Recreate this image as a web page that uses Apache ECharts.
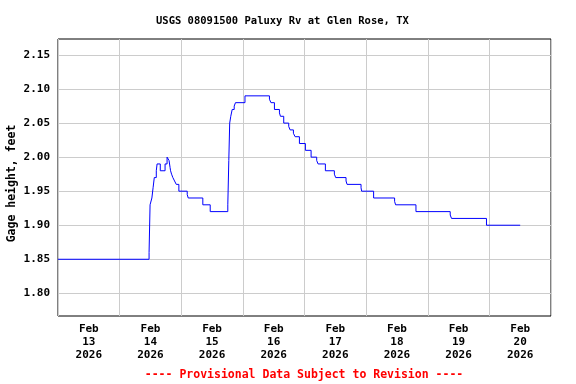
<!DOCTYPE html>
<html>
<head>
<meta charset="utf-8">
<script src="https://cdn.jsdelivr.net/npm/echarts@6/dist/echarts.min.js"></script>
<style>
html,body{margin:0;padding:0;background:#fff;}
#chart{width:576px;height:384px;}
</style>
</head>
<body>
<div id="chart"></div>
<script>
// Hours since Feb 13 2026 00:00, and gage height (ft) from that time on
const hours = [0, 35.47, 35.86, 36.56, 37.03, 37.50, 38.28, 38.59, 39.83, 41.70, 42.48,
  43.25, 43.64, 43.84, 44.23, 44.73, 45.39, 46.06, 47.07, 50.33, 50.72, 56.40, 59.28,
  66.13, 66.52, 66.87, 67.29, 67.84, 68.62, 69.12, 72.82, 82.35, 82.93, 84.29, 86.24,
  86.63, 87.91, 89.86, 90.40, 91.68, 92.34, 94.02, 96.35, 98.57, 100.75, 101.29, 104.13,
  107.63, 108.14, 112.18, 112.57, 118.02, 118.25, 122.92, 131.09, 131.48, 139.41,
  152.75, 153.26, 166.87, 180];
const heights = [1.85, 1.86, 1.93, 1.94, 1.955, 1.97, 1.98, 1.99, 1.98, 1.99, 2.00,
  1.995, 1.985, 1.98, 1.975, 1.97, 1.965, 1.96, 1.95, 1.945, 1.94, 1.93, 1.92,
  1.93, 1.995, 2.05, 2.06, 2.07, 2.075, 2.08, 2.09, 2.085, 2.08, 2.07, 2.065,
  2.06, 2.05, 2.045, 2.04, 2.035, 2.03, 2.02, 2.01, 2.00, 1.995, 1.99, 1.98,
  1.975, 1.97, 1.965, 1.96, 1.955, 1.95, 1.94, 1.935, 1.93, 1.92,
  1.915, 1.91, 1.90, 1.90];
const dayLabels = ['Feb\n13\n2026', 'Feb\n14\n2026', 'Feb\n15\n2026', 'Feb\n16\n2026',
  'Feb\n17\n2026', 'Feb\n18\n2026', 'Feb\n19\n2026', 'Feb\n20\n2026'];
const labelHours = [12, 36, 60, 84, 108, 132, 156, 180];
const yTicks = [1.80, 1.85, 1.90, 1.95, 2.00, 2.05, 2.10, 2.15];

const FONT = '"DejaVu Sans Mono", "Liberation Mono", monospace';
const chart = echarts.init(document.getElementById('chart'), null, {renderer: 'canvas'});
chart.setOption({
  animation: false,
  backgroundColor: '#ffffff',
  title: {
    text: 'USGS 08091500 Paluxy Rv at Glen Rose, TX',
    left: 151, top: 11,
    textStyle: {fontFamily: FONT, fontSize: 10.5, fontWeight: 'bold', color: '#000'}
  },
  grid: {left: 58, top: 39, right: 25, bottom: 68, show: true, borderColor: '#000', borderWidth: 1, backgroundColor: 'transparent'},
  xAxis: {
    type: 'value', min: 0, max: 192, interval: 24,
    axisLine: {show: false}, axisTick: {show: false},
    splitLine: {show: true, lineStyle: {color: '#cccccc', width: 1}},
    axisLabel: {
      customValues: labelHours,
      formatter: v => dayLabels[Math.round((v - 12) / 24)],
      fontFamily: FONT, fontSize: 11, fontWeight: 'bold', color: '#000',
      lineHeight: 12.8, margin: 7, align: 'center'
    }
  },
  yAxis: {
    type: 'value', min: 1.7667, max: 2.1735,
    axisLine: {show: false},
    axisTick: {show: false, customValues: yTicks},
    splitLine: {show: true, lineStyle: {color: '#cccccc', width: 1}},
    axisLabel: {
      customValues: yTicks,
      formatter: v => v.toFixed(2),
      fontFamily: FONT, fontSize: 11, fontWeight: 'bold', color: '#000', margin: 8
    }
  },
  graphic: [
    {type: 'text', x: 12, y: 183.5, rotation: Math.PI / 2,
      style: {text: 'Gage height, feet', fontFamily: FONT, fontSize: 11.5, fontWeight: 'bold', fill: '#000',
        textAlign: 'center', textVerticalAlign: 'middle'}},
    {type: 'text', x: 304, y: 375.5,
      style: {text: '---- Provisional Data Subject to Revision ----', fontFamily: FONT, fontSize: 11.5, fontWeight: 'bold', fill: '#ff0000',
        textAlign: 'center', textVerticalAlign: 'middle'}}
  ],
  series: [{
    type: 'line', step: 'end', showSymbol: false, symbol: 'none',
    data: hours.map((h, i) => [h, heights[i]]),
    lineStyle: {color: '#0000ff', width: 1},
    z: 5
  }]
});
</script>
</body>
</html>
